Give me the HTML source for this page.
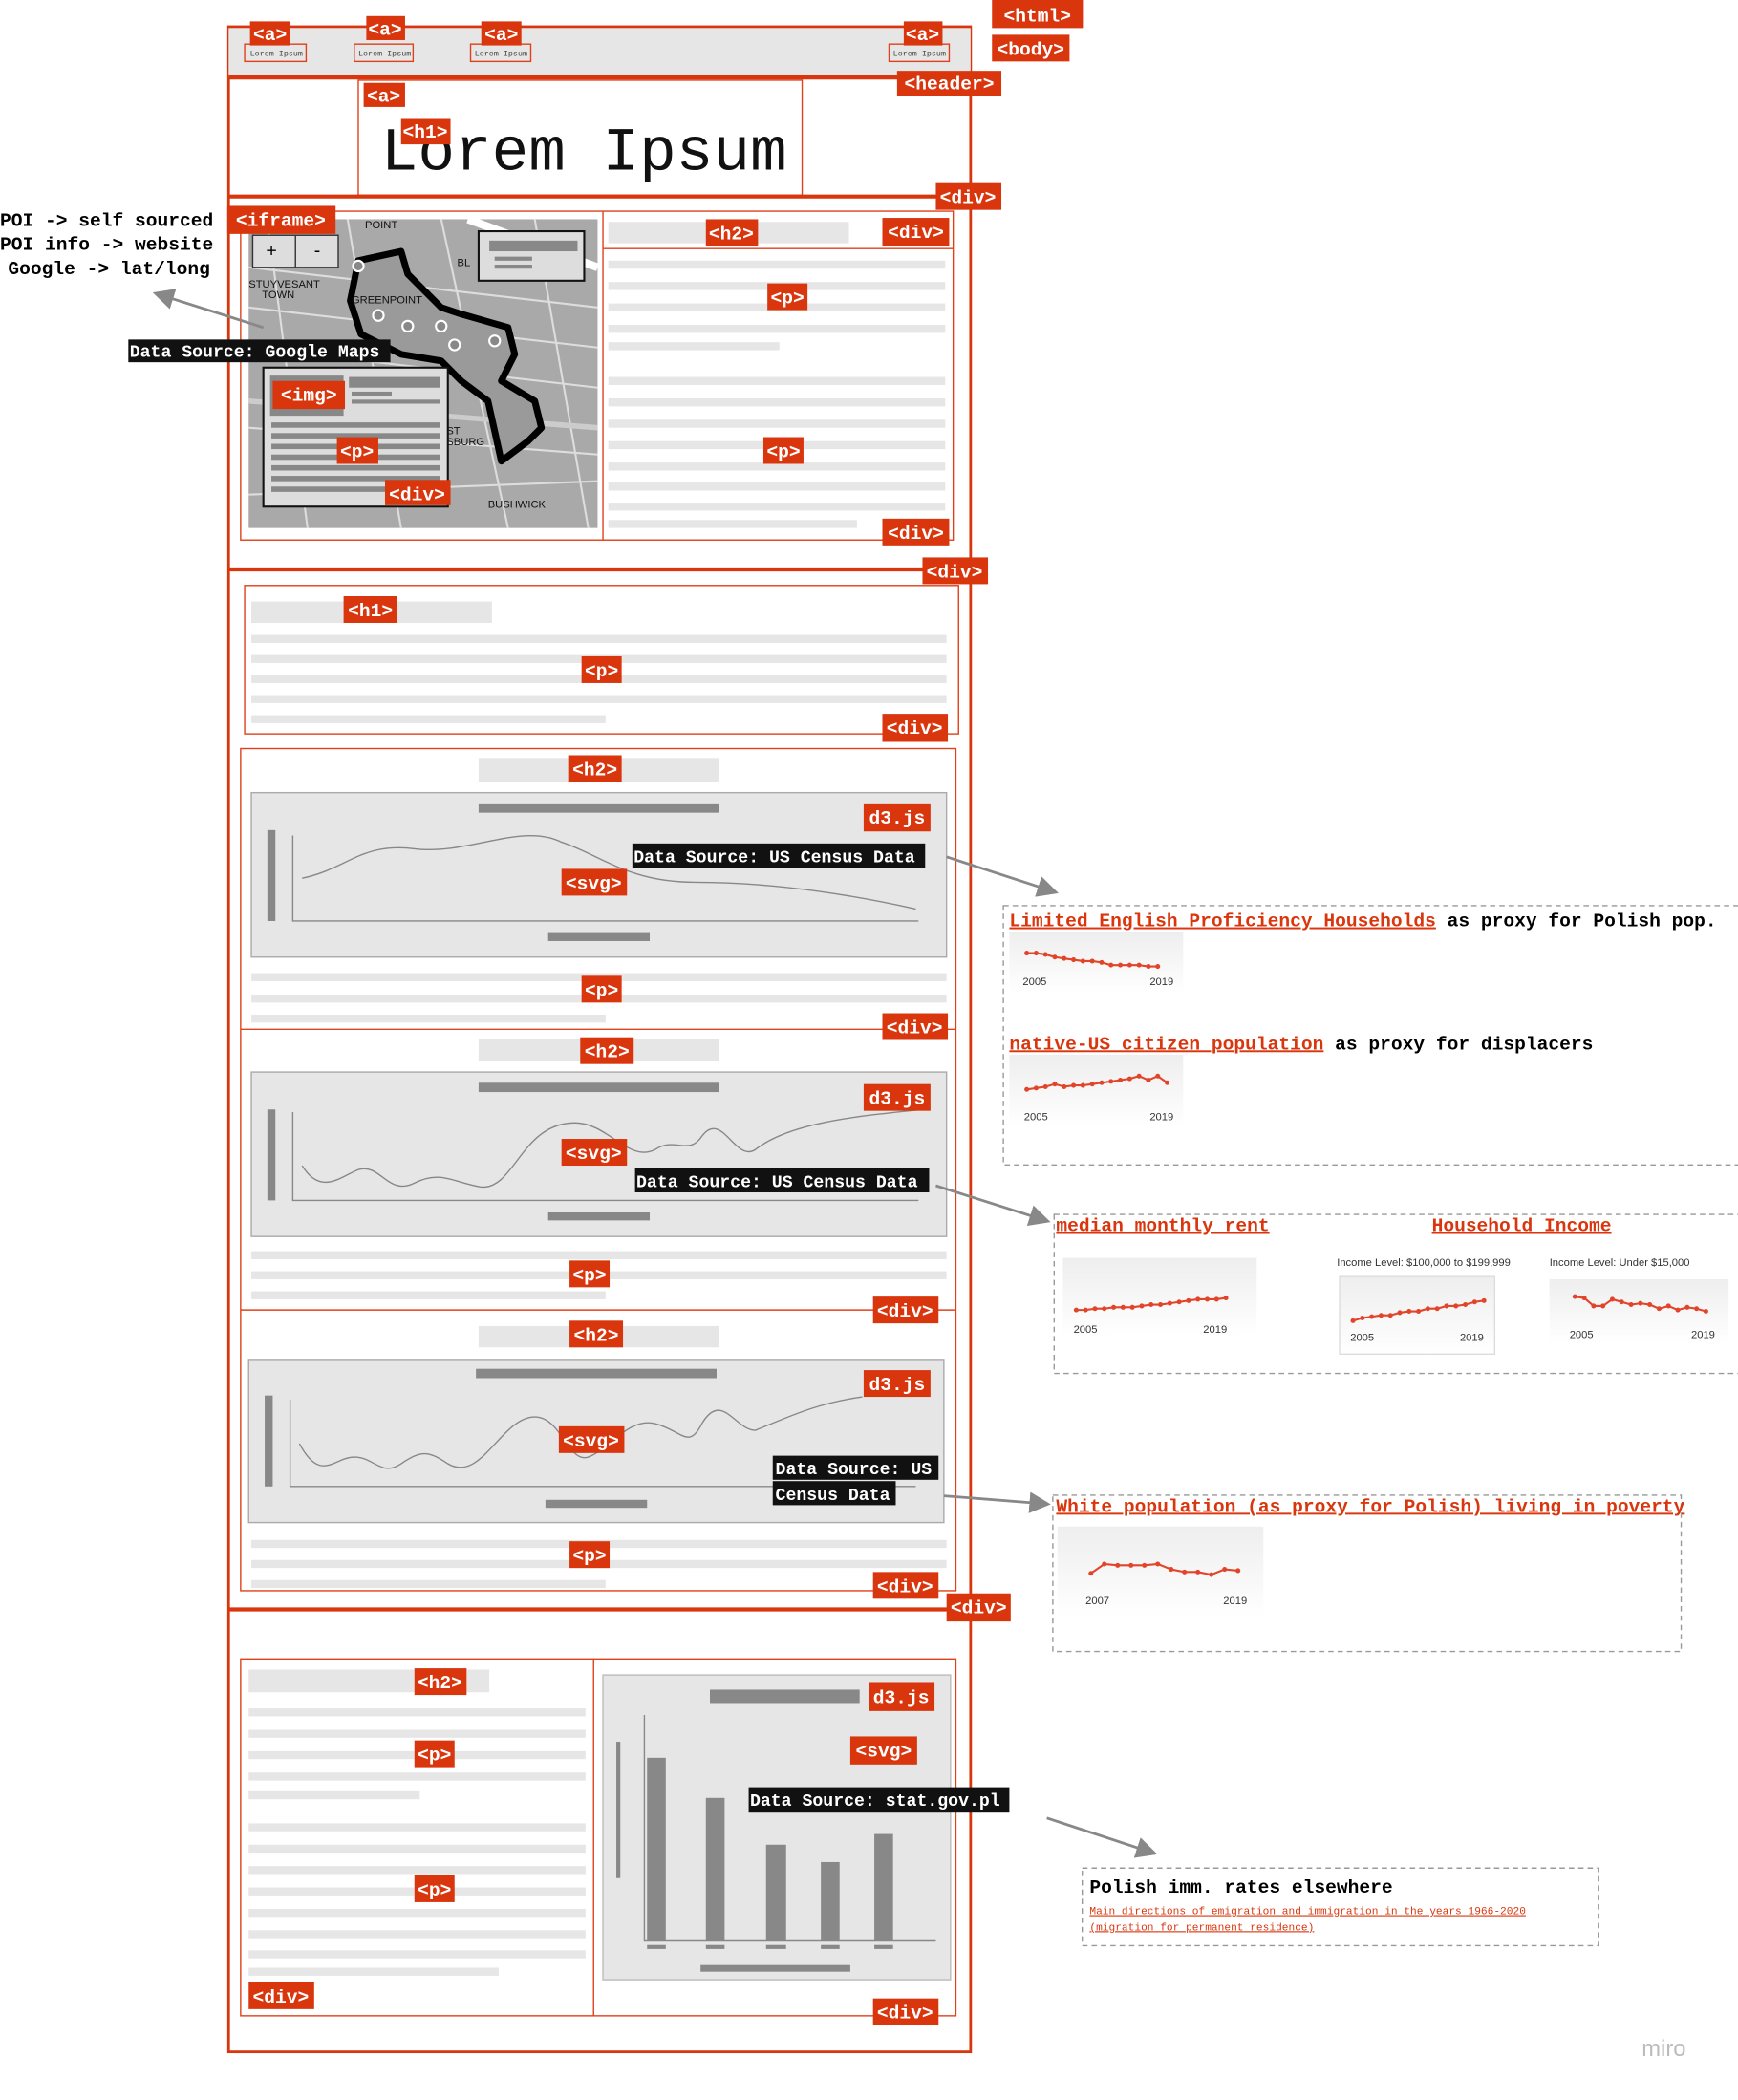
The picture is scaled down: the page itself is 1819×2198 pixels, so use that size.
<!DOCTYPE html>
<html><head><meta charset="utf-8"><style>
html,body{margin:0;padding:0;background:#fff;}
svg{display:block}
.l rect{fill:#d9360e}
.l text{fill:#fff;font-family:"Liberation Mono",monospace;font-weight:bold;font-size:14px;text-anchor:middle}
.b{fill:#e6e6e6}
.d{fill:#888}
.r{fill:none;stroke:#e0401a;stroke-width:1}
.R{fill:none;stroke:#d9360e;stroke-width:2}
.ds rect{fill:#111}
.ds text{fill:#fff;font-family:"Liberation Mono",monospace;font-weight:bold;font-size:13px}
.t{font-family:"Liberation Mono",monospace;font-weight:bold;font-size:14px}
.red{fill:#d9360e;text-decoration:underline}
.dash{fill:none;stroke:#999;stroke-dasharray:4 3;stroke-width:1}
.sm{font-family:"Liberation Sans",sans-serif;font-size:8px;fill:#333}
.ln{fill:none;stroke:#e2442a;stroke-width:1.5;marker-start:url(#dot);marker-mid:url(#dot);marker-end:url(#dot)}
.cv{fill:none;stroke:#888;stroke-width:1}
.ar{stroke:#888;stroke-width:2;fill:none}
</style></head><body>
<svg width="1819" height="2198" viewBox="0 0 1300 1571" preserveAspectRatio="none" xmlns="http://www.w3.org/2000/svg">
<defs>
<marker id="ah" markerWidth="8" markerHeight="8" refX="6" refY="4" orient="auto"><path d="M0,0 L8,4 L0,8 z" fill="#888"/></marker>
<marker id="dot" markerWidth="4" markerHeight="4" refX="2" refY="2" markerUnits="userSpaceOnUse"><circle cx="2" cy="2" r="1.8" fill="#e2442a"/></marker>
<linearGradient id="g" x1="0" y1="0" x2="0" y2="1"><stop offset="0" stop-color="#eee"/><stop offset="1" stop-color="#fff"/></linearGradient>
</defs>
<rect x="171" y="20" width="555" height="1515" class="R"/>
<rect x="171" y="21" width="555" height="37" class="b"/>
<line x1="171" y1="58" x2="726" y2="58" stroke="#d9360e" stroke-width="3"/>
<g font-family="Liberation Mono,monospace" font-size="6" fill="#444">
<rect x="183" y="33" width="46" height="13" class="r"/><text x="187" y="42">Lorem Ipsum</text>
<rect x="265" y="33" width="44" height="13" class="r"/><text x="268" y="42">Lorem Ipsum</text>
<rect x="352" y="33" width="45" height="13" class="r"/><text x="355" y="42">Lorem Ipsum</text>
<rect x="665" y="33" width="45" height="13" class="r"/><text x="668" y="42">Lorem Ipsum</text>
</g>
<rect x="268" y="60" width="332" height="86" class="r"/>
<text x="285" y="127" font-family="Liberation Mono,monospace" font-size="46" fill="#111">Lorem Ipsum</text>
<line x1="171" y1="147" x2="726" y2="147" stroke="#d9360e" stroke-width="3"/>
<rect x="180" y="158" width="533" height="246" class="r"/>
<line x1="451" y1="158" x2="451" y2="404" stroke="#e0401a"/>
<line x1="451" y1="186" x2="713" y2="186" stroke="#e0401a"/>
<rect x="186" y="164" width="261" height="231" fill="#a9a9a9"/>
<g stroke="#ddd" stroke-width="1.5" fill="none">
<path d="M186,200 L447,230 M186,260 L447,290 M186,320 L447,340 M200,164 L230,395 M260,164 L300,395 M330,164 L380,395 M400,164 L440,395 M186,370 L447,360 M186,230 L447,260"/>
<path d="M350,164 L447,200" stroke="#fff" stroke-width="6"/>
<path d="M186,300 L447,320" stroke="#ccc" stroke-width="4"/>
</g>
<path d="M268,195 L300,188 L305,205 L330,230 L345,235 L380,245 L385,265 L375,285 L400,300 L405,320 L395,330 L375,345 L365,300 L345,285 L330,270 L300,265 L270,250 L262,225 Z" fill="#9a9a9a" stroke="#000" stroke-width="5" stroke-linejoin="round"/>
<g fill="#888" stroke="#fff" stroke-width="1.5"><circle cx="268" cy="199" r="4"/><circle cx="283" cy="236" r="4"/><circle cx="305" cy="244" r="4"/><circle cx="330" cy="244" r="4"/><circle cx="340" cy="258" r="4"/><circle cx="370" cy="255" r="4"/></g>
<g font-family="Liberation Sans,sans-serif" font-size="8" fill="#111"><text x="273" y="171">POINT</text><text x="186" y="215">STUYVESANT</text><text x="196" y="223">TOWN</text><text x="263" y="227">GREENPOINT</text><text x="342" y="199">BL</text><text x="365" y="380">BUSHWICK</text><text x="334" y="325">ST</text><text x="334" y="333">SBURG</text></g>
<rect x="189" y="176" width="64" height="24" fill="#ddd" stroke="#333"/><line x1="221" y1="176" x2="221" y2="200" stroke="#333"/>
<text x="199" y="192" font-size="14" font-family="Liberation Sans,sans-serif">+</text><text x="235" y="192" font-size="14" font-family="Liberation Sans,sans-serif">-</text>
<rect x="358" y="173" width="79" height="37" fill="#ddd" stroke="#111" stroke-width="1.5"/>
<rect x="366" y="180" width="66" height="8" class="d"/><rect x="370" y="192" width="28" height="3" class="d"/><rect x="370" y="198" width="28" height="3" class="d"/>
<rect x="197" y="275" width="138" height="104" fill="#ddd" stroke="#111" stroke-width="1.5"/>
<rect x="202" y="281" width="55" height="30" class="d"/>
<rect x="261" y="282" width="68" height="8" class="d"/><rect x="263" y="293" width="30" height="3" class="d"/><rect x="263" y="299" width="66" height="3" class="d"/>
<g class="d"><rect x="203" y="316" width="126" height="4"/><rect x="203" y="324" width="126" height="4"/><rect x="203" y="332" width="126" height="4"/><rect x="203" y="340" width="126" height="4"/><rect x="203" y="348" width="126" height="4"/><rect x="203" y="356" width="126" height="4"/><rect x="203" y="364" width="126" height="4"/></g>
<g class="b"><rect x="455" y="166" width="180" height="16"/><rect x="455" y="195" width="252" height="6"/><rect x="455" y="211" width="252" height="6"/><rect x="455" y="227" width="252" height="6"/><rect x="455" y="243" width="252" height="6"/><rect x="455" y="256" width="128" height="6"/>
<rect x="455" y="282" width="252" height="6"/><rect x="455" y="298" width="252" height="6"/><rect x="455" y="314" width="252" height="6"/><rect x="455" y="330" width="252" height="6"/><rect x="455" y="346" width="252" height="6"/><rect x="455" y="361" width="252" height="6"/><rect x="455" y="376" width="252" height="6"/><rect x="455" y="389" width="186" height="6"/></g>
<g class="t" font-size="12.6"><text x="0" y="169">POI -&gt; self sourced</text><text x="0" y="187">POI info -&gt; website</text><text x="6" y="205">Google -&gt; lat/long</text></g>
<line x1="197" y1="245" x2="118" y2="220" class="ar" marker-end="url(#ah)"/>
<line x1="171" y1="426" x2="726" y2="426" stroke="#d9360e" stroke-width="3"/>
<rect x="183" y="438" width="534" height="111" class="r"/>
<g class="b"><rect x="188" y="450" width="180" height="16"/><rect x="188" y="475" width="520" height="6"/><rect x="188" y="490" width="520" height="6"/><rect x="188" y="505" width="520" height="6"/><rect x="188" y="520" width="520" height="6"/><rect x="188" y="535" width="265" height="6"/></g>
<rect x="180" y="560" width="535" height="630" class="r"/>
<line x1="180" y1="770" x2="715" y2="770" stroke="#e0401a"/><line x1="180" y1="980" x2="715" y2="980" stroke="#e0401a"/>
<g class="b"><rect x="358" y="567" width="180" height="18"/><rect x="188" y="728" width="520" height="6"/><rect x="188" y="744" width="520" height="6"/><rect x="188" y="759" width="265" height="6"/>
<rect x="358" y="777" width="180" height="17"/><rect x="188" y="936" width="520" height="6"/><rect x="188" y="951" width="520" height="6"/><rect x="188" y="966" width="265" height="6"/>
<rect x="358" y="992" width="180" height="16"/><rect x="188" y="1152" width="520" height="6"/><rect x="188" y="1167" width="520" height="6"/><rect x="188" y="1182" width="265" height="6"/></g>
<rect x="188" y="593" width="520" height="123" fill="#e6e6e6" stroke="#aaa"/>
<rect x="358" y="601" width="180" height="7" class="d"/><rect x="200" y="621" width="6" height="68" class="d"/><path d="M219,625 V689 H687" class="cv"/><rect x="410" y="698" width="76" height="6" class="d"/>
<path d="M226,657 C260,650 270,630 310,635 C350,640 390,615 420,630 C450,640 470,660 520,660 C580,660 640,670 685,680" class="cv"/>
<rect x="188" y="802" width="520" height="123" fill="#e6e6e6" stroke="#aaa"/>
<rect x="358" y="810" width="180" height="7" class="d"/><rect x="200" y="830" width="6" height="68" class="d"/><path d="M219,832 V898 H687" class="cv"/><rect x="410" y="907" width="76" height="6" class="d"/>
<path d="M226,872 C240,895 255,880 268,875 C285,870 290,895 310,885 C330,875 340,885 360,888 C385,890 390,840 430,840 C455,840 470,870 490,860 C505,850 515,865 525,850 C540,830 550,870 565,860 C590,840 640,835 690,830" class="cv"/>
<rect x="186" y="1017" width="520" height="122" fill="#e6e6e6" stroke="#aaa"/>
<rect x="356" y="1024" width="180" height="7" class="d"/><rect x="198" y="1044" width="6" height="68" class="d"/><path d="M217,1047 V1112 H685" class="cv"/><rect x="408" y="1122" width="76" height="6" class="d"/>
<path d="M224,1080 C240,1110 250,1090 265,1090 C280,1090 285,1105 300,1095 C315,1085 320,1085 335,1095 C360,1110 375,1060 400,1060 C420,1060 425,1095 440,1090 C455,1085 470,1060 490,1065 C510,1070 515,1085 525,1065 C540,1040 550,1070 565,1070 C590,1060 610,1050 645,1045" class="cv"/>
<line x1="171" y1="1204" x2="726" y2="1204" stroke="#d9360e" stroke-width="3"/>
<rect x="180" y="1241" width="535" height="267" class="r"/>
<line x1="444" y1="1241" x2="444" y2="1508" stroke="#e0401a"/>
<g class="b"><rect x="186" y="1249" width="180" height="17"/><rect x="186" y="1278" width="252" height="6"/><rect x="186" y="1294" width="252" height="6"/><rect x="186" y="1310" width="252" height="6"/><rect x="186" y="1326" width="252" height="6"/><rect x="186" y="1340" width="128" height="6"/>
<rect x="186" y="1364" width="252" height="6"/><rect x="186" y="1380" width="252" height="6"/><rect x="186" y="1396" width="252" height="6"/><rect x="186" y="1412" width="252" height="6"/><rect x="186" y="1428" width="252" height="6"/><rect x="186" y="1444" width="252" height="6"/><rect x="186" y="1459" width="252" height="6"/><rect x="186" y="1472" width="187" height="6"/></g>
<rect x="451" y="1253" width="260" height="228" fill="#e6e6e6" stroke="#bbb"/>
<rect x="531" y="1264" width="112" height="10" class="d"/><rect x="461" y="1303" width="3" height="102" class="d"/><path d="M482,1283 V1452 H700" class="cv"/>
<g class="d"><rect x="484" y="1315" width="14" height="137"/><rect x="528" y="1345" width="14" height="107"/><rect x="573" y="1380" width="15" height="72"/><rect x="614" y="1393" width="14" height="59"/><rect x="654" y="1372" width="14" height="80"/>
<rect x="484" y="1455" width="14" height="3"/><rect x="528" y="1455" width="14" height="3"/><rect x="573" y="1455" width="15" height="3"/><rect x="614" y="1455" width="14" height="3"/><rect x="654" y="1455" width="14" height="3"/><rect x="524" y="1470" width="112" height="5"/></g>
<g class="l">
<rect x="742" y="0" width="68" height="21"/><text x="776" y="16">&lt;html&gt;</text>
<rect x="742" y="26" width="58" height="20"/><text x="771" y="41">&lt;body&gt;</text>
<rect x="671" y="53" width="78" height="19"/><text x="710" y="67">&lt;header&gt;</text>
<rect x="187" y="16" width="30" height="18"/><text x="202" y="30">&lt;a&gt;</text>
<rect x="274" y="12" width="29" height="18"/><text x="288" y="26">&lt;a&gt;</text>
<rect x="360" y="16" width="30" height="18"/><text x="375" y="30">&lt;a&gt;</text>
<rect x="676" y="16" width="29" height="18"/><text x="690" y="30">&lt;a&gt;</text>
<rect x="272" y="62" width="31" height="18"/><text x="287" y="76">&lt;a&gt;</text>
<rect x="300" y="89" width="37" height="19"/><text x="318" y="103">&lt;h1&gt;</text>
<rect x="700" y="137" width="49" height="20"/><text x="724" y="152">&lt;div&gt;</text>
<rect x="170" y="154" width="81" height="21"/><text x="210" y="169">&lt;iframe&gt;</text>
<rect x="528" y="164" width="39" height="20"/><text x="547" y="179">&lt;h2&gt;</text>
<rect x="660" y="163" width="50" height="21"/><text x="685" y="178">&lt;div&gt;</text>
<rect x="574" y="212" width="30" height="20"/><text x="589" y="227">&lt;p&gt;</text>
<rect x="571" y="327" width="30" height="20"/><text x="586" y="342">&lt;p&gt;</text>
<rect x="660" y="388" width="50" height="20"/><text x="685" y="403">&lt;div&gt;</text>
<rect x="204" y="285" width="54" height="21"/><text x="231" y="300">&lt;img&gt;</text>
<rect x="252" y="327" width="31" height="20"/><text x="267" y="342">&lt;p&gt;</text>
<rect x="288" y="359" width="49" height="19"/><text x="312" y="374">&lt;div&gt;</text>
<rect x="690" y="417" width="49" height="20"/><text x="714" y="432">&lt;div&gt;</text>
<rect x="257" y="446" width="40" height="20"/><text x="277" y="461">&lt;h1&gt;</text>
<rect x="435" y="491" width="30" height="20"/><text x="450" y="506">&lt;p&gt;</text>
<rect x="660" y="534" width="49" height="21"/><text x="684" y="549">&lt;div&gt;</text>
<rect x="425" y="565" width="40" height="20"/><text x="445" y="580">&lt;h2&gt;</text>
<rect x="646" y="601" width="50" height="21"/><text x="671" y="616">d3.js</text>
<rect x="420" y="650" width="49" height="20"/><text x="444" y="665">&lt;svg&gt;</text>
<rect x="435" y="730" width="30" height="20"/><text x="450" y="745">&lt;p&gt;</text>
<rect x="660" y="758" width="49" height="20"/><text x="684" y="773">&lt;div&gt;</text>
<rect x="434" y="776" width="40" height="20"/><text x="454" y="791">&lt;h2&gt;</text>
<rect x="646" y="811" width="50" height="20"/><text x="671" y="826">d3.js</text>
<rect x="420" y="852" width="49" height="20"/><text x="444" y="867">&lt;svg&gt;</text>
<rect x="426" y="943" width="30" height="20"/><text x="441" y="958">&lt;p&gt;</text>
<rect x="653" y="970" width="49" height="20"/><text x="677" y="985">&lt;div&gt;</text>
<rect x="426" y="988" width="40" height="20"/><text x="446" y="1003">&lt;h2&gt;</text>
<rect x="646" y="1025" width="50" height="20"/><text x="671" y="1040">d3.js</text>
<rect x="418" y="1067" width="49" height="20"/><text x="442" y="1082">&lt;svg&gt;</text>
<rect x="426" y="1153" width="30" height="20"/><text x="441" y="1168">&lt;p&gt;</text>
<rect x="653" y="1176" width="49" height="20"/><text x="677" y="1191">&lt;div&gt;</text>
<rect x="708" y="1192" width="48" height="21"/><text x="732" y="1207">&lt;div&gt;</text>
<rect x="310" y="1248" width="39" height="20"/><text x="329" y="1263">&lt;h2&gt;</text>
<rect x="310" y="1302" width="30" height="20"/><text x="325" y="1317">&lt;p&gt;</text>
<rect x="310" y="1403" width="30" height="20"/><text x="325" y="1418">&lt;p&gt;</text>
<rect x="186" y="1483" width="49" height="20"/><text x="210" y="1498">&lt;div&gt;</text>
<rect x="650" y="1259" width="49" height="21"/><text x="674" y="1274">d3.js</text>
<rect x="636" y="1299" width="50" height="21"/><text x="661" y="1314">&lt;svg&gt;</text>
<rect x="653" y="1495" width="49" height="20"/><text x="677" y="1510">&lt;div&gt;</text>
</g>
<g class="ds">
<rect x="96" y="254" width="196" height="17"/><text x="97" y="267">Data Source: Google Maps</text>
<rect x="473" y="631" width="219" height="18"/><text x="474" y="645">Data Source: US Census Data</text>
<rect x="475" y="874" width="220" height="18"/><text x="476" y="888">Data Source: US Census Data</text>
<rect x="578" y="1089" width="124" height="18"/><text x="580" y="1103">Data Source: US</text>
<rect x="578" y="1108" width="92" height="18"/><text x="580" y="1122">Census Data</text>
<rect x="560" y="1337" width="195" height="19"/><text x="561" y="1351">Data Source: stat.gov.pl</text>
</g>
<line x1="708" y1="641" x2="788" y2="667" class="ar" marker-end="url(#ah)"/>
<line x1="700" y1="887" x2="782" y2="913" class="ar" marker-end="url(#ah)"/>
<line x1="706" y1="1119" x2="782" y2="1125" class="ar" marker-end="url(#ah)"/>
<line x1="783" y1="1360" x2="862" y2="1386" class="ar" marker-end="url(#ah)"/>
<rect x="750.5" y="677.5" width="560" height="194" class="dash"/>
<text x="755" y="693" class="t"><tspan class="red">Limited English Proficiency Households</tspan> as proxy for Polish pop.</text>
<rect x="755" y="697" width="130" height="46" fill="url(#g)"/>
<polyline points="768,713 775,713 782,714 789,716 796,717 803,718 810,719 817,719 824,720 831,722 838,722 845,722 852,722 859,723 866,723 " class="ln"/>
<text x="765" y="737" class="sm">2005</text><text x="860" y="737" class="sm">2019</text>
<text x="755" y="785" class="t"><tspan class="red">native-US citizen population</tspan> as proxy for displacers</text>
<rect x="755" y="789" width="130" height="54" fill="url(#g)"/>
<polyline points="768,815 775,814 782,813 789,811 796,813 803,812 810,812 817,811 824,810 831,809 838,808 845,807 852,805 859,808 866,805 873,810" class="ln"/>
<text x="766" y="838" class="sm">2005</text><text x="860" y="838" class="sm">2019</text>
<rect x="788.5" y="908.5" width="520" height="119" class="dash"/>
<text x="790" y="921" class="t"><tspan class="red">median monthly rent</tspan></text>
<text x="1071" y="921" class="t"><tspan class="red">Household Income</tspan></text>
<rect x="795" y="941" width="145" height="59" fill="url(#g)"/>
<polyline points="805,980 812,980 819,979 826,979 833,978 840,978 847,978 854,977 861,976 868,976 875,975 882,974 889,973 896,972 903,972 910,972 917,971" class="ln"/>
<text x="803" y="997" class="sm">2005</text><text x="900" y="997" class="sm">2019</text>
<text x="1000" y="947" class="sm" font-size="7">Income Level: $100,000 to $199,999</text>
<text x="1159" y="947" class="sm" font-size="7">Income Level: Under $15,000</text>
<rect x="1002" y="955" width="116" height="58" fill="url(#g)" stroke="#ddd"/>
<polyline points="1012,988 1019,986 1026,985 1033,984 1040,984 1047,982 1054,981 1061,981 1068,979 1075,979 1082,977 1089,977 1096,976 1103,974 1110,973" class="ln"/>
<text x="1010" y="1003" class="sm" font-size="7">2005</text><text x="1092" y="1003" class="sm" font-size="7">2019</text>
<rect x="1159" y="957" width="134" height="48" fill="url(#g)"/>
<polyline points="1178,970 1185,971 1192,977 1199,977 1206,972 1213,974 1220,976 1227,975 1234,976 1241,979 1248,977 1255,980 1262,978 1269,979 1276,981" class="ln"/>
<text x="1174" y="1001" class="sm">2005</text><text x="1265" y="1001" class="sm">2019</text>
<rect x="787.5" y="1118.5" width="470" height="117" class="dash"/>
<text x="790" y="1131" class="t"><tspan class="red">White population (as proxy for Polish) living in poverty </tspan></text>
<rect x="791" y="1142" width="154" height="68" fill="url(#g)"/>
<polyline points="816,1177 826,1170 836,1171 846,1171 856,1171 866,1170 876,1174 886,1176 896,1176 906,1178 916,1174 926,1175" class="ln"/>
<text x="812" y="1200" class="sm" font-size="9">2007</text><text x="915" y="1200" class="sm" font-size="9">2019</text>
<rect x="809.5" y="1397.5" width="386" height="58" class="dash"/>
<text x="815" y="1416" class="t">Polish imm. rates elsewhere</text>
<text x="815" y="1432" font-family="Liberation Mono,monospace" font-size="8" fill="#d9360e" text-decoration="underline">Main directions of emigration and immigration in the years 1966-2020 </text>
<text x="815" y="1444" font-family="Liberation Mono,monospace" font-size="8" fill="#d9360e" text-decoration="underline">(migration for permanent residence)</text>
<text x="1228" y="1538" font-family="Liberation Sans,sans-serif" font-size="17" fill="#bbb">miro</text>
</svg>
</body></html>
